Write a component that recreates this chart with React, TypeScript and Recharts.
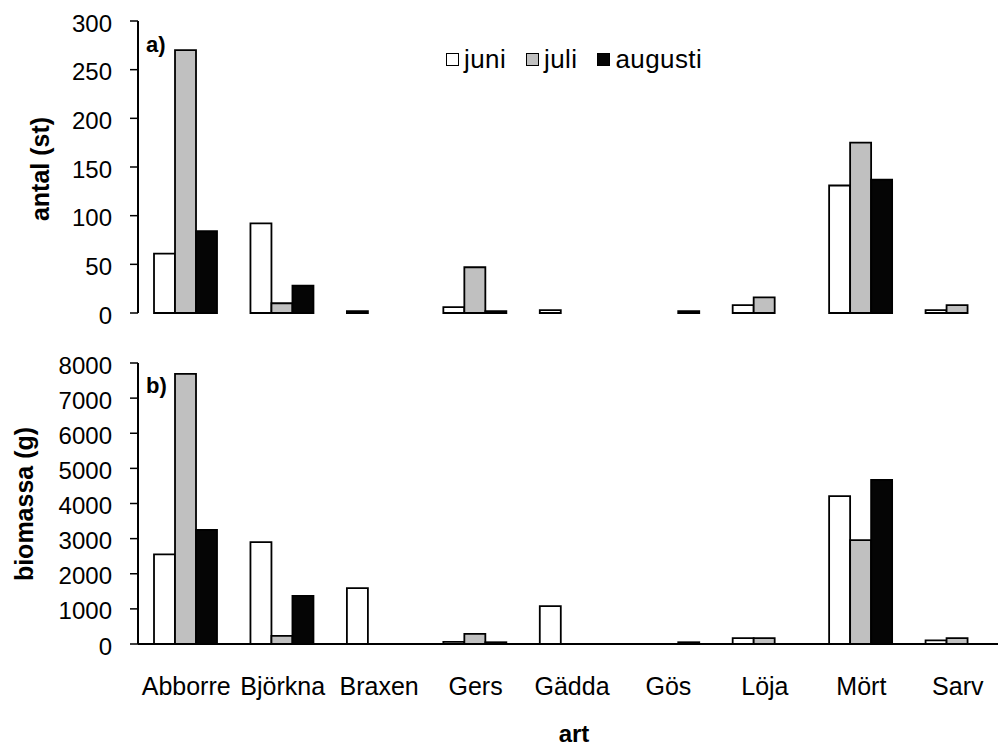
import React from "react";
import { BarChart, Bar, XAxis, YAxis, Legend } from "recharts";

// fish species caught per month
const species = ["Abborre", "Björkna", "Braxen", "Gers", "Gädda", "Gös", "Löja", "Mört", "Sarv"];

// a) number of fish (st)
const antalJuni = [61, 92, 2, 6, 3, 0, 8, 131, 3];
const antalJuli = [270, 10, 0, 47, 0, 0, 16, 175, 8];
const antalAugusti = [84, 28, 0, 2, 0, 2, 0, 137, 0];
const antalTicks = [0, 50, 100, 150, 200, 250, 300];

// b) biomass (g)
const biomassaJuni = [2550, 2900, 1590, 60, 1080, 0, 165, 4210, 105];
const biomassaJuli = [7690, 230, 0, 290, 0, 0, 165, 2960, 165];
const biomassaAugusti = [3245, 1370, 0, 50, 0, 50, 0, 4670, 0];
const biomassaTicks = [0, 1000, 2000, 3000, 4000, 5000, 6000, 7000, 8000];

const months = ["juni", "juli", "augusti"];
const monthFills = ["#ffffff", "#c0c0c0", "#050505"];

const antalRows = species.map((art, i) => ({
  art,
  juni: antalJuni[i],
  juli: antalJuli[i],
  augusti: antalAugusti[i],
}));

const biomassaRows = species.map((art, i) => ({
  art,
  juni: biomassaJuni[i],
  juli: biomassaJuli[i],
  augusti: biomassaAugusti[i],
}));

const FONT = "'Liberation Sans', Arial, sans-serif";
const axisLine = { stroke: "#000", strokeWidth: 2 };

// legend keeps the month order of the series
function MonthLegend() {
  return (
    <div style={{ display: "flex", alignItems: "center", fontSize: 26, lineHeight: "30px", color: "#000", fontFamily: FONT }}>
      {months.map((m, i) => (
        <span key={m} style={{ display: "inline-flex", alignItems: "center", marginRight: 20, letterSpacing: 0.4 }}>
          <span
            style={{
              display: "inline-block",
              width: 11,
              height: 11,
              border: "1.5px solid #000",
              background: monthFills[i],
              marginRight: 5,
              marginTop: 1,
            }}
          />
          {m}
        </span>
      ))}
    </div>
  );
}

function monthBars() {
  return months.map((m, i) => (
    <Bar
      key={m}
      dataKey={m}
      name={m}
      fill={monthFills[i]}
      stroke="#000"
      strokeWidth={1.8}
      isAnimationActive={false}
    />
  ));
}

export default function App() {
  return (
    <div
      style={{
        position: "absolute",
        left: 0,
        top: 0,
        width: 998,
        height: 749,
        overflow: "hidden",
        background: "#fff",
        fontFamily: FONT,
      }}
    >
      {/* a) antal */}
      <div style={{ position: "absolute", left: 0, top: 0 }}>
        <BarChart
          width={1010}
          height={330}
          data={antalRows}
          margin={{ top: 21, right: 4, bottom: 17, left: 0 }}
          barCategoryGap="16.6%"
          barGap={0}
        >
          <XAxis dataKey="art" height={0} tick={false} tickLine={false} axisLine={axisLine} />
          <XAxis xAxisId="frame" orientation="top" dataKey="art" height={0} tick={false} tickLine={false} axisLine={{ stroke: "#222", strokeWidth: 2 }} />
          <YAxis
            width={138}
            domain={[0, 300]}
            ticks={antalTicks}
            interval={0}
            tickSize={8}
            tickMargin={18}
            axisLine={axisLine}
            tickLine={{ stroke: "#000", strokeWidth: 1.5 }}
            tick={{ fontSize: 24, fill: "#000", dy: 2 }}
          />
          <Legend
            verticalAlign="middle"
            align="center"
            content={<MonthLegend />}
            wrapperStyle={{ left: 446, top: 44, width: "auto" }}
          />
          {monthBars()}
        </BarChart>
      </div>

      {/* b) biomassa */}
      <div style={{ position: "absolute", left: 0, top: 340 }}>
        <BarChart
          width={1010}
          height={409}
          data={biomassaRows}
          margin={{ top: 23, right: 4, bottom: 0, left: 0 }}
          barCategoryGap="16.6%"
          barGap={0}
        >
          <XAxis
            dataKey="art"
            height={105}
            interval={0}
            tickLine={false}
            tickSize={0}
            tickMargin={33}
            axisLine={axisLine}
            tick={{ fontSize: 25, fill: "#000" }}
          />
          <XAxis xAxisId="frame" orientation="top" dataKey="art" height={0} tick={false} tickLine={false} axisLine={{ stroke: "#222", strokeWidth: 2 }} />
          <YAxis
            width={138}
            domain={[0, 8000]}
            ticks={biomassaTicks}
            interval={0}
            tickSize={8}
            tickMargin={18}
            axisLine={axisLine}
            tickLine={{ stroke: "#000", strokeWidth: 1.5 }}
            tick={{ fontSize: 24, fill: "#000", dy: 2 }}
          />
          {monthBars()}
        </BarChart>
      </div>

      {/* axis titles and panel letters */}
      <svg
        width={998}
        height={749}
        style={{ position: "absolute", left: 0, top: 0, pointerEvents: "none" }}
        fontFamily={FONT}
      >
        <text x={146} y={52} fontSize={22} fontWeight="bold" fill="#000">a)</text>
        <text x={146} y={393} fontSize={22} fontWeight="bold" fill="#000">b)</text>
        <text
          x={0}
          y={0}
          transform="translate(49 169) rotate(-90)"
          textAnchor="middle"
          fontSize={25}
          fontWeight="bold"
          fill="#000"
        >
          antal (st)
        </text>
        <text
          x={0}
          y={0}
          transform="translate(33 504) rotate(-90)"
          textAnchor="middle"
          fontSize={25}
          fontWeight="bold"
          fill="#000"
        >
          biomassa (g)
        </text>
        <text x={574} y={742} textAnchor="middle" fontSize={24} fontWeight="bold" fill="#000">art</text>
      </svg>
    </div>
  );
}
